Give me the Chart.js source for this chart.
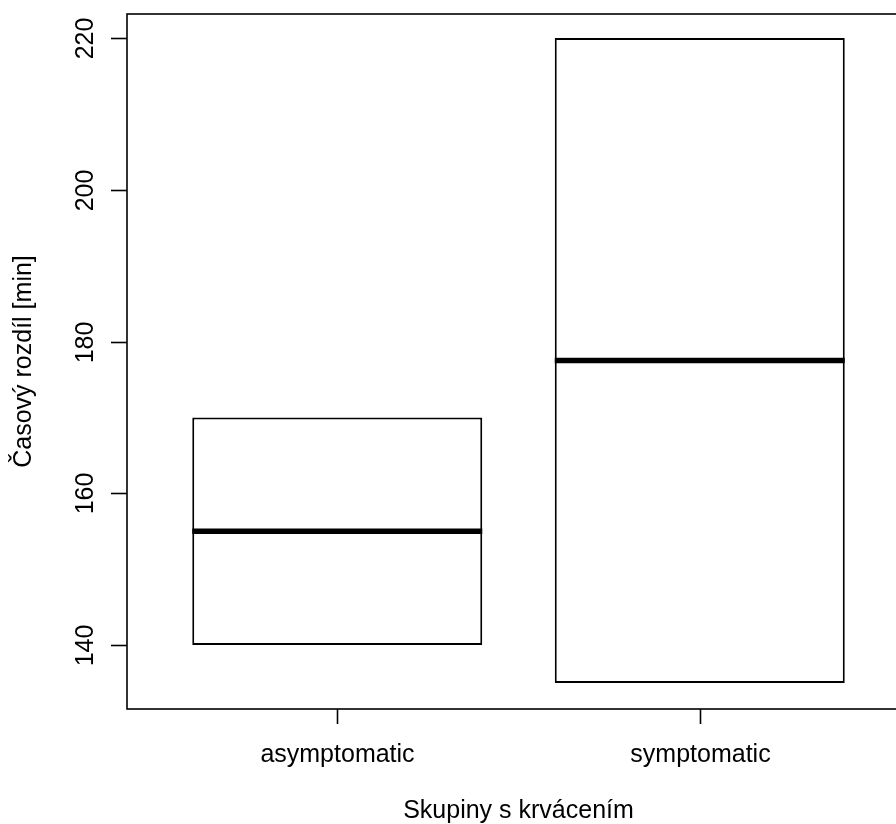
<!DOCTYPE html>
<html>
<head>
<meta charset="utf-8">
<script src="https://cdn.jsdelivr.net/npm/chart.js@4"></script>
<style>
  html, body { margin: 0; padding: 0; background: #fff; overflow: hidden; }
  #wrap { width: 896px; height: 824px; overflow: hidden; }
</style>
</head>
<body>
<div id="wrap"><canvas id="boxChart" width="924" height="824"></canvas></div>
<script>
// data
const groups = ['asymptomatic', 'symptomatic'];
const groupPos = [1, 2];
const boxLow = [140, 135];
const boxHigh = [170, 220];
const medians = [155, 177.5];
const yTicks = [140, 160, 180, 200, 220];

const xTitle = 'Skupiny s krvácením';
const yTitle = 'Časový rozdíl [min]';
const FONT = '25px "Liberation Sans", Arial, sans-serif';

// R style axes, frame and median lines
const rStyle = {
  id: 'rStyle',
  afterDatasetsDraw(chart) {
    const { ctx, scales: { y } } = chart;
    const meta = chart.getDatasetMeta(0);
    ctx.save();
    ctx.strokeStyle = '#000';
    ctx.lineWidth = 5.5;
    ctx.lineCap = 'butt';
    meta.data.forEach((bar, i) => {
      const py = y.getPixelForValue(medians[i]);
      ctx.beginPath();
      ctx.moveTo(bar.x - bar.width / 2, py);
      ctx.lineTo(bar.x + bar.width / 2, py);
      ctx.stroke();
    });
    ctx.restore();
  },
  afterDraw(chart) {
    const { ctx, chartArea: a, scales: { x, y } } = chart;
    ctx.save();
    ctx.strokeStyle = '#000';
    ctx.fillStyle = '#000';
    ctx.lineWidth = 1.6;
    ctx.strokeRect(a.left, a.top, a.right - a.left, a.bottom - a.top);

    ctx.font = FONT;
    // y axis
    yTicks.forEach(v => {
      const py = Math.round(y.getPixelForValue(v)) + 0.5;
      ctx.beginPath();
      ctx.moveTo(a.left - 16, py);
      ctx.lineTo(a.left, py);
      ctx.stroke();
      ctx.save();
      ctx.translate(93, py);
      ctx.rotate(-Math.PI / 2);
      ctx.textAlign = 'center';
      ctx.textBaseline = 'alphabetic';
      ctx.fillText(String(v), 0, 0);
      ctx.restore();
    });
    // x axis
    groupPos.forEach((v, i) => {
      const px = Math.round(x.getPixelForValue(v)) + 0.5;
      ctx.beginPath();
      ctx.moveTo(px, a.bottom);
      ctx.lineTo(px, a.bottom + 15);
      ctx.stroke();
      ctx.textAlign = 'center';
      ctx.textBaseline = 'alphabetic';
      ctx.fillText(groups[i], px, 762);
    });
    // titles
    ctx.textAlign = 'center';
    ctx.fillText(xTitle, (a.left + a.right) / 2, 818);
    ctx.save();
    ctx.translate(31, (a.top + a.bottom) / 2);
    ctx.rotate(-Math.PI / 2);
    ctx.fillText(yTitle, 0, 0);
    ctx.restore();
    ctx.restore();
  }
};

new Chart(document.getElementById('boxChart'), {
  type: 'bar',
  data: {
    datasets: [{
      data: groupPos.map((p, i) => ({ x: p, y: [boxLow[i], boxHigh[i]] })),
      backgroundColor: '#fff',
      borderColor: '#000',
      borderWidth: 2,
      borderSkipped: false,
      categoryPercentage: 1,
      barPercentage: 0.8
    }]
  },
  options: {
    responsive: false,
    animation: false,
    events: [],
    layout: { padding: { left: 127, top: 14, right: 14, bottom: 115 } },
    plugins: { legend: { display: false }, tooltip: { enabled: false } },
    scales: {
      x: {
        type: 'linear',
        display: false,
        offset: false,
        min: 0.42,
        max: 2.58,
        afterBuildTicks: s => { s.ticks = groupPos.map(v => ({ value: v })); }
      },
      y: {
        type: 'linear',
        display: false,
        min: 131.57,
        max: 223.16,
        afterBuildTicks: s => { s.ticks = yTicks.map(v => ({ value: v })); }
      }
    }
  },
  plugins: [rStyle]
});
</script>
</body>
</html>
